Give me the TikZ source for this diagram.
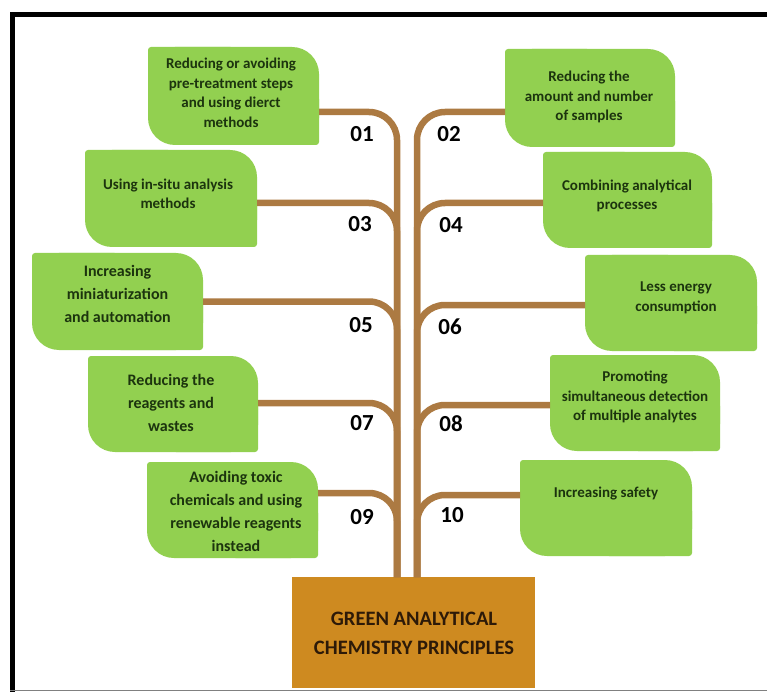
\documentclass[tikz,border=0pt]{standalone}
\usepackage{fontspec}
\setmainfont{Carlito}
\usetikzlibrary{backgrounds}
\definecolor{leafgreen}{RGB}{146,208,80}
\definecolor{leaftext}{RGB}{28,52,14}
\definecolor{branchbrown}{RGB}{172,122,66}
\definecolor{ochre}{RGB}{206,138,32}
\definecolor{ochretext}{RGB}{45,26,8}
\tikzset{
  boxarea/.style={rectangle, inner sep=0pt, outer sep=0pt, draw=none},
  lt/.style={align=center, text=leaftext, inner sep=0pt, font=\bfseries\fontsize{15}{19.5}\selectfont},
  ltbig/.style={lt, font=\bfseries\fontsize{16}{23}\selectfont},
  num/.style={inner sep=0pt, text=black, font=\bfseries\fontsize{23}{26}\selectfont},
  branch/.style={draw=branchbrown, line width=6.5pt, rounded corners=28pt},
}
\newcommand\leafshape[1]{%
  \fill[leafgreen, rounded corners=27pt] (#1.south west) rectangle (#1.north east);
  \fill[leafgreen, rounded corners=3pt] (#1.north west) rectangle (#1.center);
  \fill[leafgreen, rounded corners=3pt] (#1.center) rectangle (#1.south east);}
\begin{document}
\begin{tikzpicture}[x=1pt, y=-1pt]
\useasboundingbox (0,0) rectangle (767,692);
% frame
\draw[black, line width=5pt] (12.5,692) -- (12.5,15) -- (767,15);
\draw[gray, line width=1.5pt] (10,690.5) -- (767,690.5);
% boxes
\node[boxarea, minimum width=171pt, minimum height=98pt] (b1) at (233.5,96) {};
\node[boxarea, minimum width=170pt, minimum height=98pt] (b2) at (590,98) {};
\node[boxarea, minimum width=172pt, minimum height=97pt] (b3) at (171,198.5) {};
\node[boxarea, minimum width=169pt, minimum height=96pt] (b4) at (627.5,200) {};
\node[boxarea, minimum width=171pt, minimum height=97pt] (b5) at (117.5,301.5) {};
\node[boxarea, minimum width=172pt, minimum height=96pt] (b6) at (671,303) {};
\node[boxarea, minimum width=170pt, minimum height=96pt] (b7) at (173,404) {};
\node[boxarea, minimum width=170pt, minimum height=96pt] (b8) at (635,403) {};
\node[boxarea, minimum width=171pt, minimum height=96pt] (b9) at (232.5,510) {};
\node[boxarea, minimum width=172pt, minimum height=96pt] (b10) at (606,508) {};
\foreach \b in {b1,b2,b3,b4,b5,b6,b7,b8,b9,b10} {\leafshape{\b}}
% base
\node[rectangle, fill=ochre, minimum width=243pt, minimum height=111pt, inner sep=0pt, outer sep=0pt] (gac) at (413.5,632.5) {};
\node[align=center, text=ochretext, inner sep=0pt, font=\bfseries\fontsize{20.5}{29}\selectfont] (gact) at (414,633) {GREEN ANALYTICAL\\CHEMISTRY PRINCIPLES};
% trunk coordinates
\coordinate (L) at (397,0);
\coordinate (R) at (417,0);
% branches
\draw[branch] ([yshift=-16pt]b1.east) -| (gac.north -| L);
\draw[branch] ([yshift=-4.5pt]b3.east) -| (gac.north -| L);
\draw[branch] ([yshift=0pt]b5.east) -| (gac.north -| L);
\draw[branch] ([yshift=1pt]b7.east) -| (gac.north -| L);
\draw[branch] ([yshift=17pt]b9.east) -| (gac.north -| L);
\draw[branch] ([yshift=-14pt]b2.west) -| (gac.north -| R);
\draw[branch] ([yshift=-3pt]b4.west) -| (gac.north -| R);
\draw[branch] ([yshift=-2pt]b6.west) -| (gac.north -| R);
\draw[branch] ([yshift=-2pt]b8.west) -| (gac.north -| R);
\draw[branch] ([yshift=13pt]b10.west) -| (gac.north -| R);
% texts
\node[lt] (t1) at (231,93) {Reducing or avoiding\\pre-treatment steps\\and using dierct\\methods};
\node[lt] (t2) at (589,97) {Reducing the\\amount and number\\of samples};
\node[lt] (t3) at (168,194) {Using in-situ analysis\\methods};
\node[lt] (t4) at (627,196) {Combining analytical\\processes};
\node[ltbig] (t5) at (117.5,294) {Increasing\\miniaturization\\and automation};
\node[lt] (t6) at (676,298) {Less energy\\consumption};
\node[ltbig] (t7) at (171,403) {Reducing the\\reagents and\\wastes};
\node[lt] (t8) at (635,397) {Promoting\\simultaneous detection\\of multiple analytes};
\node[ltbig] (t9) at (236,511) {Avoiding toxic\\chemicals and using\\renewable reagents\\instead};
\node[lt] (t10) at (606,494) {Increasing safety};
% numbers
\node[num] (n1) at (362,134) {01};
\node[num] (n2) at (449,134) {02};
\node[num] (n3) at (360,224) {03};
\node[num] (n4) at (451,225) {04};
\node[num] (n5) at (361,325) {05};
\node[num] (n6) at (450,327) {06};
\node[num] (n7) at (362,423) {07};
\node[num] (n8) at (451,424) {08};
\node[num] (n9) at (362,517) {09};
\node[num] (n10) at (452,515) {10};
\end{tikzpicture}
\end{document}
